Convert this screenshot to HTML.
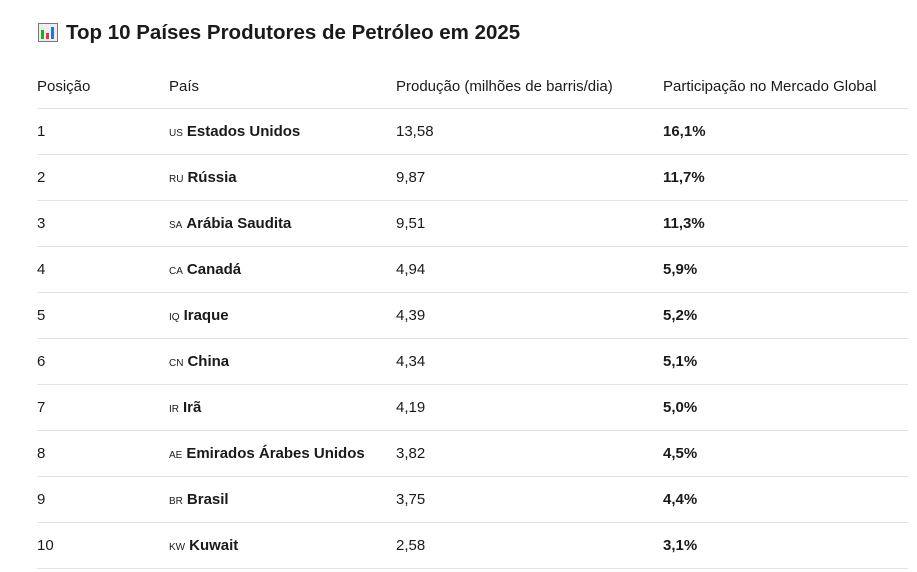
<!DOCTYPE html>
<html><head><meta charset="utf-8"><style>
body{margin:0;background:#fff;font-family:"Liberation Sans",sans-serif;color:#1a1a1a;width:917px;height:572px;overflow:hidden;position:relative}
h1{position:absolute;left:38px;top:20px;margin:0;font-size:20.5px;font-weight:bold;line-height:26px}
.icon{display:inline-block;width:20px;height:19px;border:1px solid #777;background:#eee;vertical-align:-3px;position:relative;margin-right:8px;box-sizing:border-box}
.icon i{position:absolute;bottom:2px;width:3px}
table{position:absolute;left:37px;top:63px;width:871px;border-collapse:collapse;font-size:15px}
td,th{text-align:left;font-weight:normal;height:45px;border-bottom:1px solid #e3e3e3;padding:0;vertical-align:middle}
th{height:43px;padding-top:2px}
td:nth-child(1),th:nth-child(1){width:132px}
td:nth-child(2),th:nth-child(2){width:227px}
td:nth-child(3),th:nth-child(3){width:267px}
.b{font-weight:bold}
.f{font-size:10px;font-weight:normal;margin-right:4px}
</style></head><body>
<h1><span class="icon"><i style="left:2px;height:9px;background:#2a2"></i><i style="left:7px;height:6px;background:#e33"></i><i style="left:12px;height:12px;background:#27d"></i></span>Top 10 Países Produtores de Petróleo em 2025</h1>
<table>
<tr><th>Posição</th><th>País</th><th>Produção (milhões de barris/dia)</th><th>Participação no Mercado Global</th></tr>
<tr><td>1</td><td class="b"><span class="f">US</span>Estados Unidos</td><td>13,58</td><td class="b">16,1%</td></tr>
<tr><td>2</td><td class="b"><span class="f">RU</span>Rússia</td><td>9,87</td><td class="b">11,7%</td></tr>
<tr><td>3</td><td class="b"><span class="f">SA</span>Arábia Saudita</td><td>9,51</td><td class="b">11,3%</td></tr>
<tr><td>4</td><td class="b"><span class="f">CA</span>Canadá</td><td>4,94</td><td class="b">5,9%</td></tr>
<tr><td>5</td><td class="b"><span class="f">IQ</span>Iraque</td><td>4,39</td><td class="b">5,2%</td></tr>
<tr><td>6</td><td class="b"><span class="f">CN</span>China</td><td>4,34</td><td class="b">5,1%</td></tr>
<tr><td>7</td><td class="b"><span class="f">IR</span>Irã</td><td>4,19</td><td class="b">5,0%</td></tr>
<tr><td>8</td><td class="b"><span class="f">AE</span>Emirados Árabes Unidos</td><td>3,82</td><td class="b">4,5%</td></tr>
<tr><td>9</td><td class="b"><span class="f">BR</span>Brasil</td><td>3,75</td><td class="b">4,4%</td></tr>
<tr><td>10</td><td class="b"><span class="f">KW</span>Kuwait</td><td>2,58</td><td class="b">3,1%</td></tr>
</table>
</body></html>
